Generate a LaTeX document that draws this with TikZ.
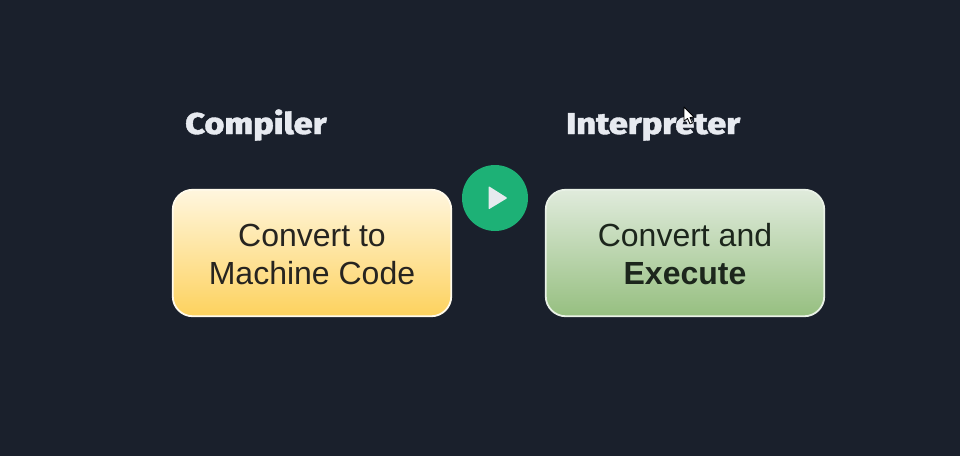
\documentclass[tikz,border=0pt]{standalone}
\usepackage{fontspec}
\setmainfont{Liberation Sans}
\newfontfamily\headfont{Fira Sans}[UprightFont=* ExtraBold,BoldFont=* ExtraBold,FakeStretch=1.145,FakeBold=1.2]
\definecolor{bgc}{HTML}{1A202C}
\definecolor{headc}{HTML}{E7EAF0}
\definecolor{playc}{HTML}{1DB176}
\definecolor{playtri}{HTML}{E6EAEE}
\definecolor{ytop}{HTML}{FFF6DE}
\definecolor{ybot}{HTML}{FDD25E}
\definecolor{gtop}{HTML}{E0EBDC}
\definecolor{gbot}{HTML}{96BF80}
\definecolor{ytext}{HTML}{262420}
\definecolor{gtext}{HTML}{1C261C}
\tikzset{
  cardbox/.style={draw=#1,line width=1.8pt,rounded corners=20pt,minimum width=278.5pt,minimum height=126.5pt,
    align=center,inner sep=0pt,font=\fontsize{32}{38.5}\selectfont},
  headlabel/.style={anchor=base west,text=headc,inner sep=0pt,font=\headfont\fontsize{30}{36}\selectfont},
}
\begin{document}
\begin{tikzpicture}[x=1pt,y=-1pt]
\useasboundingbox (0,0) rectangle (960,456);
\fill[bgc] (0,0) rectangle (960,456);
\node[headlabel] (comp) at (185,134) {Compiler};
\node[headlabel] (inter) at (566,134) {Interpreter};
\node[cardbox=ytop!60!white,top color=ytop,bottom color=ybot,text=ytext] (a) at (312,253) {\rule{0pt}{25.5pt}Convert to\\Machine Code};
\node[cardbox=gtop!70!white,top color=gtop,bottom color=gbot,text=gtext] (b) at (685,253) {\rule{0pt}{25.5pt}Convert and\\\textbf{Execute}};
\node[circle,fill=playc,minimum size=66pt,inner sep=0pt] (play) at (495,198) {};
\fill[playtri,rounded corners=1pt] (488.5,186) -- (507.5,198) -- (488.5,209.5) -- cycle;
\draw[black,fill=white,line width=.8pt,line join=round] (684,107) -- (684,121) -- (687.5,118.5) -- (690,124) -- (692.5,123) -- (690,117.5) -- (694,117) -- cycle;
\end{tikzpicture}
\end{document}
